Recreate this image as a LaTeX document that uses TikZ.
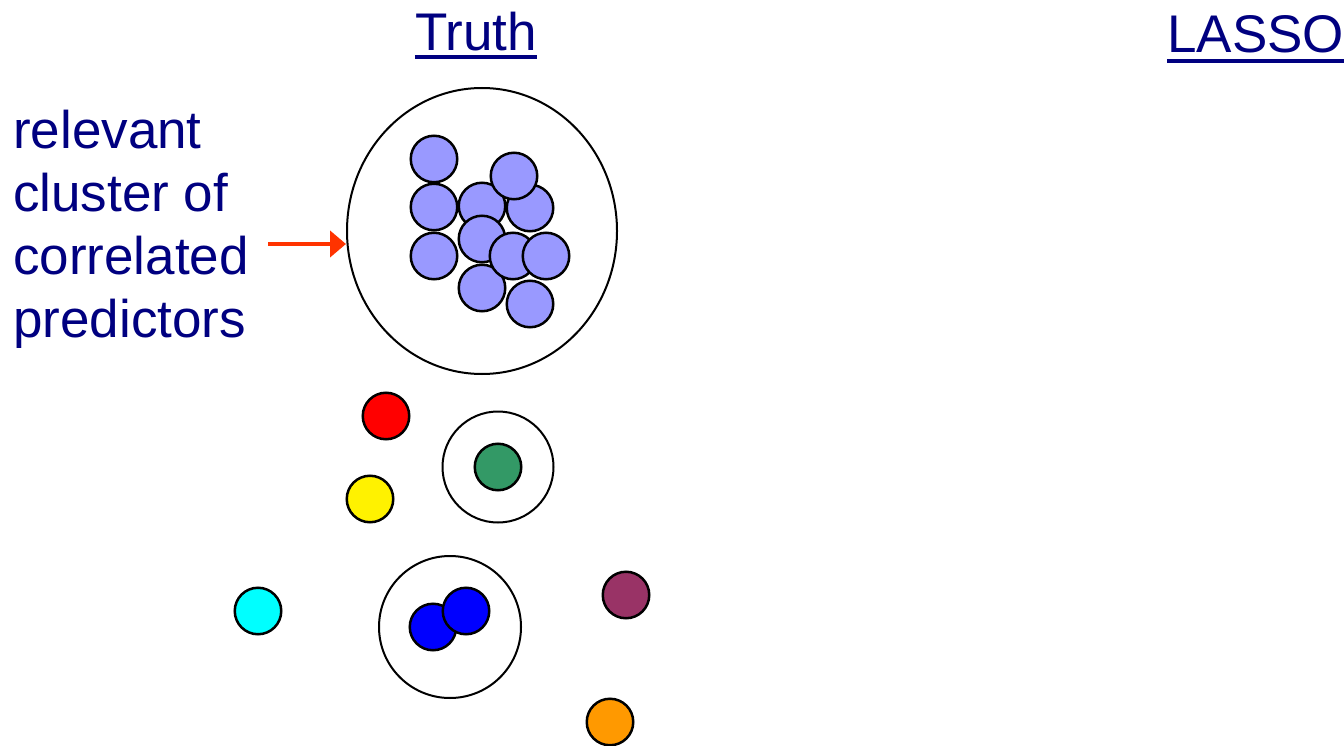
\documentclass[tikz,border=0pt]{standalone}
\usepackage{fontspec}
\setmainfont{Liberation Sans}
\usetikzlibrary{arrows.meta,shapes.geometric}
\definecolor{navy}{HTML}{000080}
\definecolor{lavender}{HTML}{9999FF}
\definecolor{arrowred}{HTML}{FF3300}
\definecolor{seagreen}{HTML}{339966}
\definecolor{aqua}{HTML}{00FFFF}
\definecolor{plum}{HTML}{993366}
\definecolor{amber}{HTML}{FF9900}
\tikzset{
  ball/.style={circle, draw=black, line width=2.5pt, minimum size=46.5pt, inner sep=0pt},
  ring/.style={circle, draw=black, line width=2pt, inner sep=0pt},
  heading/.style={text=navy, inner sep=0pt, font=\fontsize{53}{63}\selectfont},
}
\begin{document}
\begin{tikzpicture}[x=1pt, y=-1pt]
\useasboundingbox (0,0) rectangle (1344,746); % page size
% column headings
\node (truth) at (476,51) [heading, anchor=base] {Truth};
\node (lasso) at (1167,53) [heading, anchor=base west] {LASSO};
\draw [navy, line width=3.5pt] ([yshift=-6pt]truth.base west) -- ([yshift=-6pt]truth.base east);
\draw [navy, line width=3.5pt] ([yshift=-8pt]lasso.base west) -- ([yshift=-8pt]lasso.base east);
% side label
\node (label) at (13,110) [heading, anchor=north west, align=left] {relevant\\cluster of\\correlated\\predictors};
% the correlated cluster
\node (cluster) at (482,231) [ellipse, draw, line width=2pt, minimum width=270pt, minimum height=286pt, inner sep=0pt] {};
\foreach \x/\y [count=\i] in {434/159, 434/207, 434/256, 482/206, 530/208, 514/176,
                              482/288, 482/239, 513/256, 546/256, 530/304}
  \node (p\i) at (\x,\y) [ball, fill=lavender] {};
\coordinate (tail) at (268,244);
\draw [-{Triangle[length=16pt, width=26pt]}, arrowred, line width=4.5pt] (tail) -- (cluster.west |- tail);
% single predictors
\node (red) at (386,416) [ball, fill=red] {};
\node (yellow) at (370,499) [ball, fill=yellow] {};
\node (greenring) at (498,467) [ring, minimum size=111pt] {};
\node (green) at (498,467) [ball, fill=seagreen] {};
\node (aqua) at (258,611) [ball, fill=aqua] {};
\node (bluering) at (450,627) [ring, minimum size=142pt] {};
\node (blueA) at (433,627) [ball, fill=blue] {};
\node (blueB) at (466,611) [ball, fill=blue] {};
\node (plum) at (626,595) [ball, fill=plum] {};
\node (amber) at (610,722) [ball, fill=amber] {};
\end{tikzpicture}
\end{document}
